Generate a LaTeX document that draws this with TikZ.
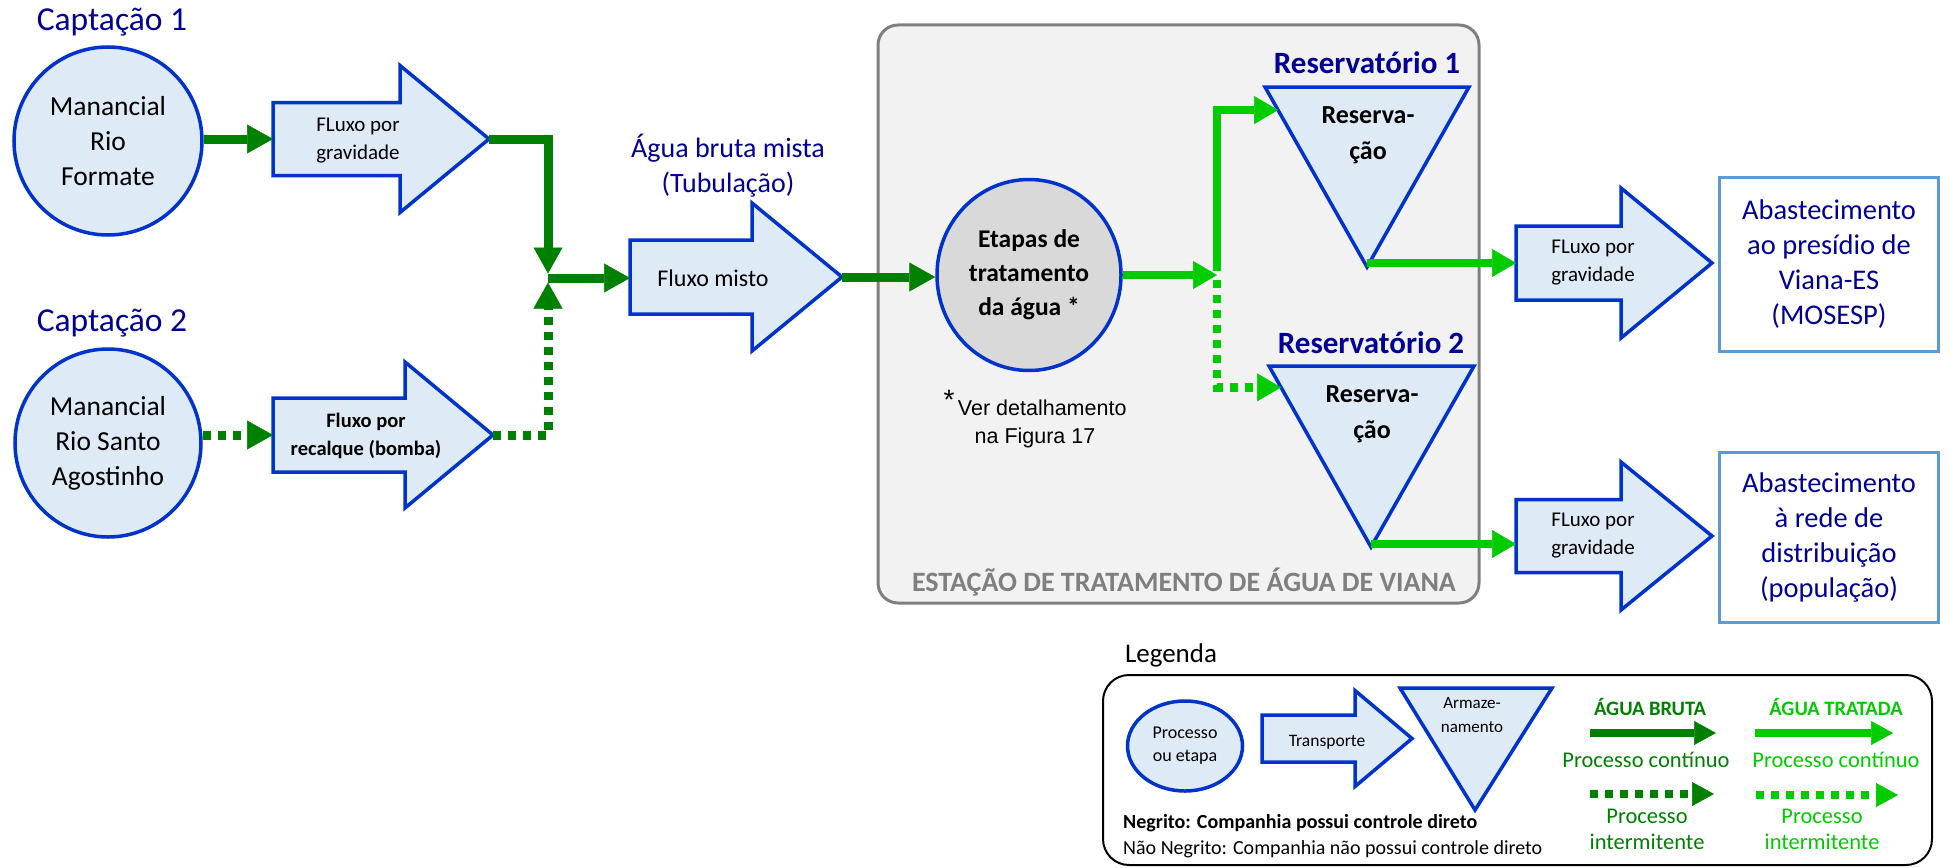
\documentclass[tikz,border=0pt]{standalone}
\usepackage{fontspec}
\setmainfont{Carlito}
\newfontfamily\notefont{Liberation Sans}
\usetikzlibrary{arrows.meta,shapes.geometric,calc}

\definecolor{shapeblue}{RGB}{0,51,204}
\definecolor{shapefill}{RGB}{222,235,247}
\definecolor{rawgreen}{RGB}{0,128,0}
\definecolor{treatgreen}{RGB}{0,204,0}
\definecolor{plantfill}{RGB}{242,242,242}
\definecolor{plantgray}{RGB}{127,127,127}
\definecolor{stepgray}{RGB}{217,217,217}
\definecolor{destblue}{RGB}{91,155,213}
\definecolor{labelblue}{RGB}{0,0,150}

\newcommand\setfs[2]{\fontsize{#1}{#2}\selectfont}

% block arrow: name, tail x, centre y, body length, body half height, head length, head half height
\newcommand\blockarrow[7]{%
  \draw[transport] (#2,#3-#5) -- (#2+#4,#3-#5) -- (#2+#4,#3-#7) -- (#2+#4+#6,#3)
    -- (#2+#4,#3+#7) -- (#2+#4,#3+#5) -- (#2,#3+#5) -- cycle;
  \coordinate (#1w) at (#2,#3);
  \coordinate (#1e) at (#2+#4+#6,#3);
}
% storage triangle: name, left x, right x, top y, apex x, apex y
\newcommand\storage[6]{%
  \coordinate (#1nw) at (#2,#4);
  \coordinate (#1ne) at (#3,#4);
  \coordinate (#1s) at (#5,#6);
  \draw[storagebox] (#1nw) -- (#1ne) -- (#1s) -- cycle;
}

\tikzset{
  transport/.style={draw=shapeblue, fill=shapefill, line width=3.5pt},
  storagebox/.style={draw=shapeblue, fill=shapefill, line width=3.5pt},
  process/.style={ellipse, draw=shapeblue, fill=shapefill, line width=3.5pt, inner sep=0pt, align=center},
  heading/.style={text=labelblue, font=\setfs{33.5}{38}},
  dest/.style={draw=destblue, line width=3.5pt, text=labelblue, align=center, font=\setfs{28.5}{35}, inner sep=0pt},
  raw/.style={draw=rawgreen, line width=9pt, -{Triangle[length=26pt,width=29pt,line width=0.5pt,fill=rawgreen]}},
  treated/.style={draw=treatgreen, line width=8.5pt, -{Triangle[length=24pt,width=28pt,line width=0.5pt,fill=treatgreen]}},
  legraw/.style={draw=rawgreen, line width=8pt, -{Triangle[length=22pt,width=24pt,line width=0.5pt,fill=rawgreen]}},
  legtreated/.style={draw=treatgreen, line width=8pt, -{Triangle[length=22pt,width=24pt,line width=0.5pt,fill=treatgreen]}},
  intermittent/.style={dash pattern=on 8pt off 7pt},
  plant/.style={draw=plantgray, fill=plantfill, line width=3pt, rounded corners=20pt},
  legendbox/.style={draw=black, line width=2pt, rounded corners=26pt},
}

\begin{document}
\begin{tikzpicture}[x=1pt,y=-1pt]
\useasboundingbox (0,0) rectangle (1950,867);

% treatment plant enclosure
\draw[plant] (878,25) rectangle (1479,603);

% sources
\node[heading] (cap1) at (112,22) {Captação 1};
\node[heading] (cap2) at (112,323) {Captação 2};
\node[process, minimum width=188pt, minimum height=188pt, font=\setfs{27.5}{35}] (c1) at (108,141) {Manancial\\Rio\\Formate};
\node[process, minimum width=186pt, minimum height=188pt, font=\setfs{27.5}{35}] (c2) at (108,443) {Manancial\\Rio Santo\\Agostinho};

% raw water transport
\blockarrow{a1}{273}{139}{127}{36.5}{89}{73.5}
\node[font=\setfs{21}{28}, align=center] (a1t) at (358,141) {FLuxo por\\gravidade};
\blockarrow{a2}{273}{435}{132}{37}{88}{73}
\node[font=\bfseries\setfs{20.5}{28}, align=center] (a2t) at (366,436) {Fluxo por\\recalque (bomba)};

\node[text=labelblue, align=center, font=\setfs{28}{35}] (mix) at (728,166) {Água bruta mista\\(Tubulação)};
\blockarrow{a3}{630}{277}{122}{37}{90}{74}
\node[font=\setfs{24}{28}] (a3t) at (713,278) {Fluxo misto};

\coordinate (j) at (548,278);
\coordinate (jt) at (548,273.5);
\coordinate (jb) at (548,282.5);

% treatment
\node[process, fill=stepgray, minimum width=184pt, minimum height=191pt, font=\bfseries\setfs{25.5}{34}] (eta) at (1029,275) {Etapas de\\tratamento\\da água *};
\node[font=\notefont\setfs{21.5}{28}, align=center] (note) at (1035,419) {\raisebox{6pt}{\setfs{28}{28}*}\,Ver detalhamento\\na Figura 17};
\coordinate (s) at (1217,275);

% reservoirs
\node[font=\bfseries\setfs{31}{36}, text=labelblue] (r1lbl) at (1367,63) {Reservatório 1};
\storage{r1}{1265}{1469}{87}{1367}{267}
\node[font=\bfseries\setfs{26}{36}, align=center] (r1t) at (1368,135) {Reserva-\\ção};
\node[font=\bfseries\setfs{31}{36}, text=labelblue] (r2lbl) at (1371,343) {Reservatório 2};
\storage{r2}{1269}{1474}{366}{1371}{547}
\node[font=\bfseries\setfs{26}{36}, align=center] (r2t) at (1372,414) {Reserva-\\ção};
\coordinate (r1in) at ($(r1nw)!0.128!(r1s)$);
\coordinate (r2in) at ($(r2nw)!0.118!(r2s)$);

\node[font=\bfseries\setfs{28}{32}, text=plantgray] (plantlbl) at (1184,582) {ESTAÇÃO DE TRATAMENTO DE ÁGUA DE VIANA};

% distribution
\blockarrow{a4}{1516}{263}{105}{37}{91}{75}
\node[font=\setfs{21}{28}, align=center] (a4t) at (1593,263) {FLuxo por\\gravidade};
\blockarrow{a5}{1516}{536}{105}{36.5}{91}{74}
\node[font=\setfs{21}{28}, align=center] (a5t) at (1593,536) {FLuxo por\\gravidade};
\node[dest, minimum width=219pt, minimum height=174pt] (b1) at (1829,264.5) {Abastecimento\\ao presídio de\\Viana-ES\\(MOSESP)};
\node[dest, minimum width=219pt, minimum height=170pt] (b2) at (1829,537.5) {Abastecimento\\à rede de\\distribuição\\(população)};

% flows
\draw[raw] (c1.east |- a1w) -- (a1w);
\draw[raw, intermittent] (c2.east |- a2w) -- (a2w);
\draw[raw] (a1e) -| (jt);
\draw[raw, intermittent] (a2e) -| (jb);
\draw[raw] (j) -- (a3w |- j);
\draw[raw] (a3e) -- (a3e -| eta.west);
\draw[treated] (eta.east) -- (s);
\draw[treated] ([yshift=4pt]s) |- (r1in);
\draw[treated, intermittent] ([yshift=-5pt]s) |- (r2in);
\draw[treated] (r1s |- a4w) -- (a4w);
\draw[treated] ([yshift=3pt]r2s) -- ([yshift=3pt]r2s -| a5w);

% legend
\node[font=\setfs{27}{30}] (legtitle) at (1171,655) {Legenda};
\draw[legendbox] (1103,675) rectangle (1932,865);
\node[process, minimum width=115pt, minimum height=90pt, font=\setfs{18}{23}] (lc) at (1185,746) {Processo\\ou etapa};
\blockarrow{la}{1262}{738.5}{93}{23.5}{57}{48}
\node[font=\setfs{17.5}{22}] (lat) at (1327,742) {Transporte};
\storage{ls}{1400}{1552}{688}{1475}{810}
\node[font=\setfs{17}{24}, align=center] (lst) at (1472,715) {Armaze-\\namento};

\node[font=\bfseries\setfs{20.5}{24}, text=rawgreen] (lrawt) at (1650,707) {ÁGUA BRUTA};
\node[font=\bfseries\setfs{20.5}{24}, text=treatgreen] (ltrt) at (1836,707) {ÁGUA TRATADA};
\coordinate (lr1a) at (1590,733);
\coordinate (lr1b) at (1716,733);
\coordinate (lt1a) at (1755,733);
\coordinate (lt1b) at (1893,733);
\coordinate (lr2a) at (1590,794);
\coordinate (lr2b) at (1714,794);
\coordinate (lt2a) at (1756,795);
\coordinate (lt2b) at (1898,795);
\draw[legraw] (lr1a) -- (lr1b);
\draw[legtreated] (lt1a) -- (lt1b);
\draw[legraw, intermittent] (lr2a) -- (lr2b);
\draw[legtreated, intermittent] (lt2a) -- (lt2b);
\node[font=\setfs{22.5}{26}, text=rawgreen] (lrc) at (1646,760) {Processo contínuo};
\node[font=\setfs{22.5}{26}, text=treatgreen] (ltc) at (1836,760) {Processo contínuo};
\node[font=\setfs{22.5}{26}, text=rawgreen, align=center] (lri) at (1647,829) {Processo\\intermitente};
\node[font=\setfs{22.5}{26}, text=treatgreen, align=center] (lti) at (1822,829) {Processo\\intermitente};

\node[font=\bfseries\setfs{20}{24}, anchor=west, inner sep=0pt] (bold) at (1123,823) {Negrito: Companhia possui controle direto};
\node[font=\setfs{20}{24}, anchor=west, inner sep=0pt] (plain) at (1123,849) {Não Negrito: Companhia não possui controle direto};
\end{tikzpicture}
\end{document}
